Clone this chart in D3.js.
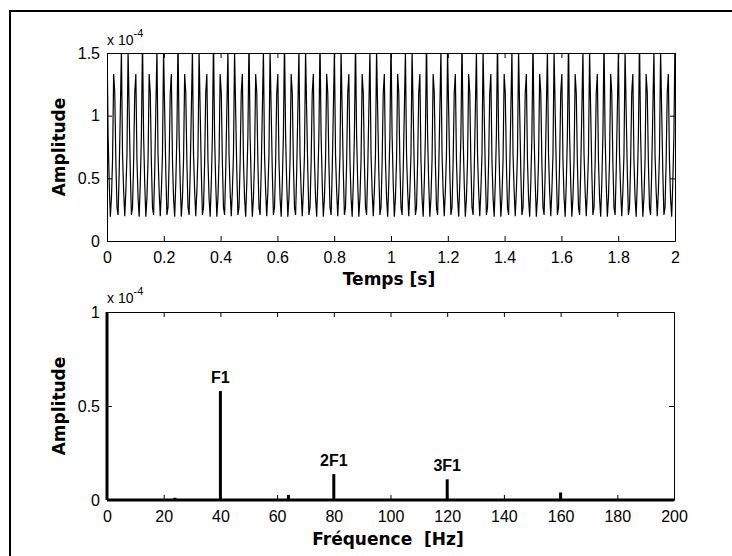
<!DOCTYPE html>
<html>
<head>
<meta charset="utf-8">
<script src="https://cdn.jsdelivr.net/npm/d3@7"></script>
<style>
  body { margin: 0; background: #fff; }
  svg text { font-family: "Liberation Sans", Arial, sans-serif; fill: #000; }
</style>
</head>
<body>
<svg id="canvas" width="732" height="556"></svg>
<script>
// spectrum components (amplitudes in 1e-4)
const specFreq = [0, 24, 40, 64, 80, 104, 120, 160];
const specAmp = [1.0, 0.012, 0.58, 0.027, 0.138, 0.005, 0.11, 0.04];
const peakLabels = ["F1", "2F1", "3F1"];
const peakFreq = [40, 80, 120];

const sigMean = 0.7;
const sampleRate = 256;
const duration = 2;

const timeTicks = [0, 0.2, 0.4, 0.6, 0.8, 1, 1.2, 1.4, 1.6, 1.8, 2];
const ampTicksTop = [0, 0.5, 1, 1.5];
const freqTicks = [0, 20, 40, 60, 80, 100, 120, 140, 160, 180, 200];
const ampTicksBottom = [0, 0.5, 1];

const svg = d3.select("#canvas");

// outer frame
svg.append("rect")
  .attr("x", 10).attr("y", 11)
  .attr("width", 800).attr("height", 600)
  .attr("fill", "none").attr("stroke", "#000").attr("stroke-width", 2);

function buildSignal() {
  const pts = [];
  const n = sampleRate * duration;
  for (let i = 0; i <= n; i++) {
    const t = i / sampleRate;
    let v = sigMean;
    for (let k = 1; k < specFreq.length; k++) {
      v += specAmp[k] * Math.cos(2 * Math.PI * specFreq[k] * t);
    }
    pts.push({ t, v });
  }
  return pts;
}

function drawAxes(g, x, y, xTicks, yTicks, fmtX, fmtY) {
  const [x0, x1] = x.range();
  const [y0, y1] = y.range();
  g.append("g").attr("transform", `translate(0,${y0})`)
    .call(d3.axisBottom(x).tickValues(xTicks).tickSize(-5).tickSizeOuter(0)
      .tickPadding(11).tickFormat(fmtX));
  g.append("g").attr("transform", `translate(0,${y1})`)
    .call(d3.axisTop(x).tickValues(xTicks).tickSize(-5).tickSizeOuter(0).tickFormat(""));
  g.append("g").attr("transform", `translate(${x0},0)`)
    .call(d3.axisLeft(y).tickValues(yTicks).tickSize(-5).tickSizeOuter(0)
      .tickPadding(7).tickFormat(fmtY));
  g.append("g").attr("transform", `translate(${x1},0)`)
    .call(d3.axisRight(y).tickValues(yTicks).tickSize(-5).tickSizeOuter(0).tickFormat(""));
  g.selectAll(".tick text").style("font-size", "16px");
  g.selectAll(".domain, .tick line").attr("stroke", "#000");
}

function exponentLabel(g, x, yBase) {
  const t = g.append("text").attr("x", x).attr("y", yBase).style("font-size", "14px");
  t.append("tspan").text("x 10");
  t.append("tspan").attr("dy", -8).style("font-size", "11px").text("-4");
}

function yLabel(g, x, yc, txt) {
  g.append("text")
    .attr("transform", `translate(${x},${yc}) rotate(-90)`)
    .attr("text-anchor", "middle")
    .style("font-family", "'DejaVu Sans', sans-serif")
    .style("font-weight", "bold").style("font-size", "17px")
    .text(txt);
}

function xLabel(g, xc, yb, txt) {
  g.append("text")
    .attr("x", xc).attr("y", yb)
    .attr("text-anchor", "middle")
    .style("font-family", "'DejaVu Sans', sans-serif")
    .style("font-weight", "bold").style("font-size", "17px")
    .style("white-space", "pre")
    .text(txt);
}

const fmt = d => d3.format("~g")(d);

// ---- upper plot: time signal
const topPlot = svg.append("g");
const xT = d3.scaleLinear().domain([0, 2]).range([107, 675]);
const yT = d3.scaleLinear().domain([0, 1.5]).range([241, 53]);

topPlot.append("clipPath").attr("id", "clipTop")
  .append("rect").attr("x", 107).attr("y", 53).attr("width", 568).attr("height", 188);

topPlot.append("path")
  .datum(buildSignal())
  .attr("clip-path", "url(#clipTop)")
  .attr("fill", "none").attr("stroke", "#000").attr("stroke-width", 1.2)
  .attr("d", d3.line().x(d => xT(d.t)).y(d => yT(d.v)));

drawAxes(topPlot, xT, yT, timeTicks, ampTicksTop, fmt, fmt);
exponentLabel(topPlot, 107, 45);
yLabel(topPlot, 65, 147, "Amplitude");
xLabel(topPlot, 389, 285, "Temps [s]");

// ---- lower plot: spectrum
const botPlot = svg.append("g");
const xF = d3.scaleLinear().domain([0, 200]).range([107, 674]);
const yF = d3.scaleLinear().domain([0, 1]).range([500, 312]);

botPlot.append("line")
  .attr("x1", xF(0)).attr("x2", xF(200))
  .attr("y1", yF(0)).attr("y2", yF(0))
  .attr("stroke", "#000").attr("stroke-width", 3);

botPlot.selectAll("line.stem")
  .data(specFreq.map((f, i) => ({ f, a: specAmp[i] })))
  .enter()
  .append("line")
  .attr("class", "stem")
  .attr("x1", d => xF(d.f)).attr("x2", d => xF(d.f))
  .attr("y1", yF(0)).attr("y2", d => yF(Math.min(d.a, 1)))
  .attr("stroke", "#000").attr("stroke-width", 3);

drawAxes(botPlot, xF, yF, freqTicks, ampTicksBottom, fmt, fmt);

botPlot.selectAll("text.peak")
  .data(peakLabels.map((l, i) => ({ l, f: peakFreq[i], a: specAmp[specFreq.indexOf(peakFreq[i])] })))
  .enter()
  .append("text")
  .attr("class", "peak")
  .attr("x", d => xF(d.f))
  .attr("y", d => yF(d.a) - 8)
  .attr("text-anchor", "middle")
  .style("font-weight", "bold").style("font-size", "16px")
  .text(d => d.l);

exponentLabel(botPlot, 107, 303);
yLabel(botPlot, 65, 406, "Amplitude");
xLabel(botPlot, 388, 545, "Fréquence  [Hz]");
</script>
</body>
</html>
